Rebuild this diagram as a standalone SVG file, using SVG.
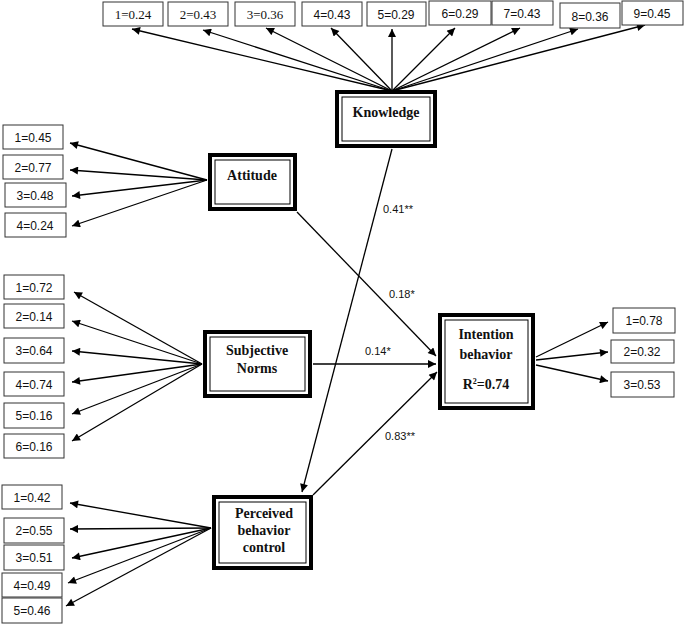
<svg xmlns="http://www.w3.org/2000/svg" width="685" height="624" viewBox="0 0 685 624">
<style>
.ind{fill:#fff;stroke:#333;stroke-width:1}
.t{font-family:"Liberation Sans",Arial,sans-serif;font-size:12px;fill:#111;text-anchor:middle}
.ts{font-family:"Liberation Serif","Times New Roman",serif;font-size:13px;fill:#111;text-anchor:middle}
.nb{font-family:"Liberation Serif","Times New Roman",serif;font-size:14px;font-weight:bold;fill:#111;text-anchor:middle}
.outer{fill:#fff;stroke:#000;stroke-width:4}
.inner{fill:none;stroke:#000;stroke-width:1}
.c line{stroke:#000;stroke-width:1.3;fill:none;marker-end:url(#ah)}
.lbl{font-family:"Liberation Sans",Arial,sans-serif;font-size:11px;fill:#111}
</style>
<defs>
<marker id="ah" viewBox="0 0 10 10" refX="10" refY="5" markerWidth="9" markerHeight="8" markerUnits="userSpaceOnUse" orient="auto">
<path d="M0,0 L10,5 L0,10 z" fill="#000"/>
</marker>
</defs>
<g class="c" id="connectors">
<line x1="392" y1="91" x2="132" y2="29"/>
<line x1="392" y1="91" x2="203" y2="30"/>
<line x1="392" y1="91" x2="266" y2="28"/>
<line x1="392" y1="91" x2="331" y2="28"/>
<line x1="392" y1="91" x2="392" y2="29"/>
<line x1="392" y1="91" x2="455" y2="28"/>
<line x1="392" y1="91" x2="520" y2="28"/>
<line x1="392" y1="91" x2="578" y2="29"/>
<line x1="392" y1="91" x2="645" y2="25"/>
<line x1="207" y1="180" x2="70" y2="143"/>
<line x1="207" y1="180" x2="70" y2="170"/>
<line x1="207" y1="180" x2="72" y2="196"/>
<line x1="207" y1="180" x2="72" y2="226"/>
<line x1="202" y1="364" x2="74" y2="292"/>
<line x1="202" y1="364" x2="72" y2="321"/>
<line x1="202" y1="364" x2="72" y2="351"/>
<line x1="202" y1="364" x2="72" y2="382"/>
<line x1="202" y1="364" x2="72" y2="414"/>
<line x1="202" y1="364" x2="72" y2="441"/>
<line x1="211" y1="528" x2="70" y2="503"/>
<line x1="211" y1="528" x2="70" y2="529"/>
<line x1="211" y1="528" x2="72" y2="558"/>
<line x1="211" y1="528" x2="68" y2="583"/>
<line x1="211" y1="528" x2="66" y2="606"/>
<line x1="536" y1="357" x2="608" y2="322"/>
<line x1="536" y1="360" x2="608" y2="352"/>
<line x1="536" y1="365" x2="608" y2="381"/>
<line x1="392" y1="149" x2="302" y2="492"/>
<line x1="297" y1="212" x2="436" y2="356"/>
<line x1="313" y1="364" x2="436" y2="364"/>
<line x1="313" y1="495" x2="437" y2="372"/>
</g>
<g id="edge-labels">
<text class="lbl" x="383" y="213">0.41**</text>
<text class="lbl" x="389" y="298">0.18*</text>
<text class="lbl" x="365" y="355">0.14*</text>
<text class="lbl" x="385" y="440">0.83**</text>
</g>
<g id="knowledge-items">
<rect class="ind" x="103" y="2" width="60" height="24"/><text class="ts" x="133" y="19">1=0.24</text>
<rect class="ind" x="168" y="2" width="60" height="24"/><text class="ts" x="198" y="19">2=0.43</text>
<rect class="ind" x="235" y="2" width="60" height="24"/><text class="ts" x="265" y="19">3=0.36</text>
<rect class="ind" x="302" y="2" width="60" height="24"/><text class="t" x="332" y="19">4=0.43</text>
<rect class="ind" x="367" y="2" width="59" height="24"/><text class="t" x="396" y="19">5=0.29</text>
<rect class="ind" x="429" y="1" width="62" height="24"/><text class="t" x="460" y="18">6=0.29</text>
<rect class="ind" x="492" y="1" width="61" height="24"/><text class="t" x="522" y="18">7=0.43</text>
<rect class="ind" x="560" y="3" width="60" height="25"/><text class="t" x="590" y="21">8=0.36</text>
<rect class="ind" x="622" y="1" width="61" height="24"/><text class="t" x="652" y="18">9=0.45</text>
</g>
<g id="attitude-items">
<rect class="ind" x="3" y="125" width="60" height="24"/><text class="t" x="33" y="142">1=0.45</text>
<rect class="ind" x="3" y="155" width="60" height="24"/><text class="t" x="33" y="172">2=0.77</text>
<rect class="ind" x="5" y="183" width="61" height="24"/><text class="t" x="35" y="200">3=0.48</text>
<rect class="ind" x="5" y="213" width="61" height="24"/><text class="t" x="35" y="230">4=0.24</text>
</g>
<g id="sn-items">
<rect class="ind" x="4" y="275" width="60" height="24"/><text class="t" x="34" y="292">1=0.72</text>
<rect class="ind" x="4" y="304" width="60" height="24"/><text class="t" x="34" y="321">2=0.14</text>
<rect class="ind" x="4" y="338" width="60" height="25"/><text class="t" x="34" y="355">3=0.64</text>
<rect class="ind" x="4" y="372" width="60" height="24"/><text class="t" x="34" y="389">4=0.74</text>
<rect class="ind" x="4" y="403" width="60" height="25"/><text class="t" x="34" y="420">5=0.16</text>
<rect class="ind" x="4" y="434" width="60" height="24"/><text class="t" x="34" y="451">6=0.16</text>
</g>
<g id="pbc-items">
<rect class="ind" x="2" y="485" width="60" height="24"/><text class="t" x="32" y="502">1=0.42</text>
<rect class="ind" x="4" y="518" width="60" height="25"/><text class="t" x="34" y="535">2=0.55</text>
<rect class="ind" x="4" y="545" width="60" height="25"/><text class="t" x="34" y="562">3=0.51</text>
<rect class="ind" x="2" y="573" width="60" height="24"/><text class="t" x="32" y="590">4=0.49</text>
<rect class="ind" x="2" y="598" width="60" height="25"/><text class="t" x="32" y="615">5=0.46</text>
</g>
<g id="ib-items">
<rect class="ind" x="613" y="308" width="62" height="25"/><text class="t" x="644" y="325">1=0.78</text>
<rect class="ind" x="611" y="340" width="63" height="23"/><text class="t" x="642" y="356">2=0.32</text>
<rect class="ind" x="611" y="372" width="63" height="25"/><text class="t" x="642" y="389">3=0.53</text>
</g>
<g id="knowledge">
<rect class="outer" x="337" y="92" width="98" height="54"/>
<rect class="inner" x="342" y="97" width="88" height="44"/>
<text class="nb" x="386" y="117">Knowledge</text>
</g>
<g id="attitude">
<rect class="outer" x="210" y="155" width="85" height="54"/>
<rect class="inner" x="215" y="160" width="75" height="44"/>
<text class="nb" x="252" y="180">Attitude</text>
</g>
<g id="subjective-norms">
<rect class="outer" x="205" y="332" width="105" height="64"/>
<rect class="inner" x="210" y="337" width="95" height="54"/>
<text class="nb" x="257" y="355">Subjective</text>
<text class="nb" x="257" y="373">Norms</text>
</g>
<g id="perceived-behavior-control">
<rect class="outer" x="214" y="497" width="97" height="71"/>
<rect class="inner" x="219" y="502" width="87" height="61"/>
<text class="nb" x="264" y="518">Perceived</text>
<text class="nb" x="264" y="535">behavior</text>
<text class="nb" x="264" y="552">control</text>
</g>
<g id="intention-behavior">
<rect class="outer" x="440" y="315" width="93" height="93"/>
<rect class="inner" x="445" y="320" width="83" height="83"/>
<text class="nb" x="486" y="339">Intention</text>
<text class="nb" x="486" y="359">behavior</text>
<text class="nb" x="486" y="389">R<tspan font-size="8" dy="-5">2</tspan><tspan dy="5">=0.74</tspan></text>
</g>
</svg>
